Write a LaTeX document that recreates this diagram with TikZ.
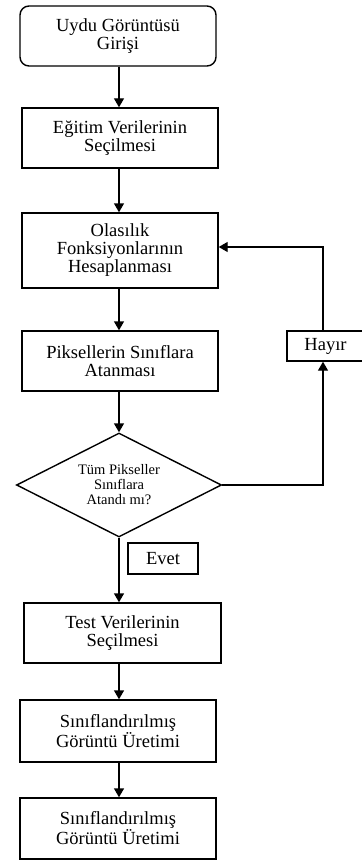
\documentclass[tikz,border=0pt]{standalone}
\usepackage{fontspec}
\setmainfont{Liberation Serif}
\usetikzlibrary{arrows.meta,shapes.geometric}
\begin{document}
\begin{tikzpicture}[x=1pt,y=-1pt,
  line width=1.4pt,
  arr/.style={-{Triangle[width=10pt,length=9pt]}},
  boxn/.style={draw,minimum width=196pt,inner sep=0pt,align=center,font=\fontsize{18.5}{18}\selectfont},
  lbl/.style={draw,inner sep=0pt,align=center,font=\fontsize{18.5}{18}\selectfont},
  dec/.style={draw,diamond,inner sep=0pt,minimum width=205pt,minimum height=104pt},
  dectext/.style={align=center,inner sep=0pt,font=\fontsize{14.5}{15}\selectfont}]
\useasboundingbox (0,0) rectangle (361,861);
\node[boxn,rounded corners=9pt,minimum height=60pt] (b1) at (118,36) {Uydu Görüntüsü\\Girişi};
\node[boxn,minimum height=60pt] (b2) at (120,138) {Eğitim Verilerinin\\Seçilmesi};
\node[boxn,minimum height=75pt] (b3) at (120,250.5) {Olasılık\\Fonksiyonlarının\\Hesaplanması};
\node[boxn,minimum height=60pt] (b4) at (120,361) {Piksellerin Sınıflara\\Atanması};
\node[dec] (dia) at (119,485) {};
\node[dectext] (diat) at (119,485) {Tüm Pikseller\\Sınıflara\\Atandı mı?};
\node[lbl,minimum width=77pt,minimum height=30pt] (hay) at (325.5,346) {Hayır};
\node[lbl,minimum width=70pt,minimum height=31pt] (evet) at (163,558.5) {Evet};
\node[boxn,minimum width=197pt,minimum height=60pt] (b5) at (122.5,633) {Test Verilerinin\\Seçilmesi};
\node[boxn,minimum height=62pt] (b6) at (118,731) {Sınıflandırılmış\\Görüntü Üretimi};
\node[boxn,minimum height=61pt] (b7) at (118,828.5) {Sınıflandırılmış\\Görüntü Üretimi};
\coordinate (ax) at (119,0);
\draw[arr] (b1.south -| ax) -- (b2.north -| ax);
\draw[arr] (b2.south -| ax) -- (b3.north -| ax);
\draw[arr] (b3.south -| ax) -- (b4.north -| ax);
\draw[arr] (b4.south -| ax) -- (dia.north);
\draw[arr] (dia.south) -- (b5.north -| dia.south);
\draw[arr] (b5.south -| ax) -- (b6.north -| ax);
\draw[arr] (b6.south -| ax) -- (b7.north -| ax);
\coordinate (lx) at (323,0);
\coordinate (ly) at (0,247);
\draw[arr] (dia.east) -- (dia.east -| lx) -- (hay.south -| lx);
\draw[arr] (hay.north -| lx) -- (lx |- ly) -- (b3.east |- ly);
\end{tikzpicture}
\end{document}
